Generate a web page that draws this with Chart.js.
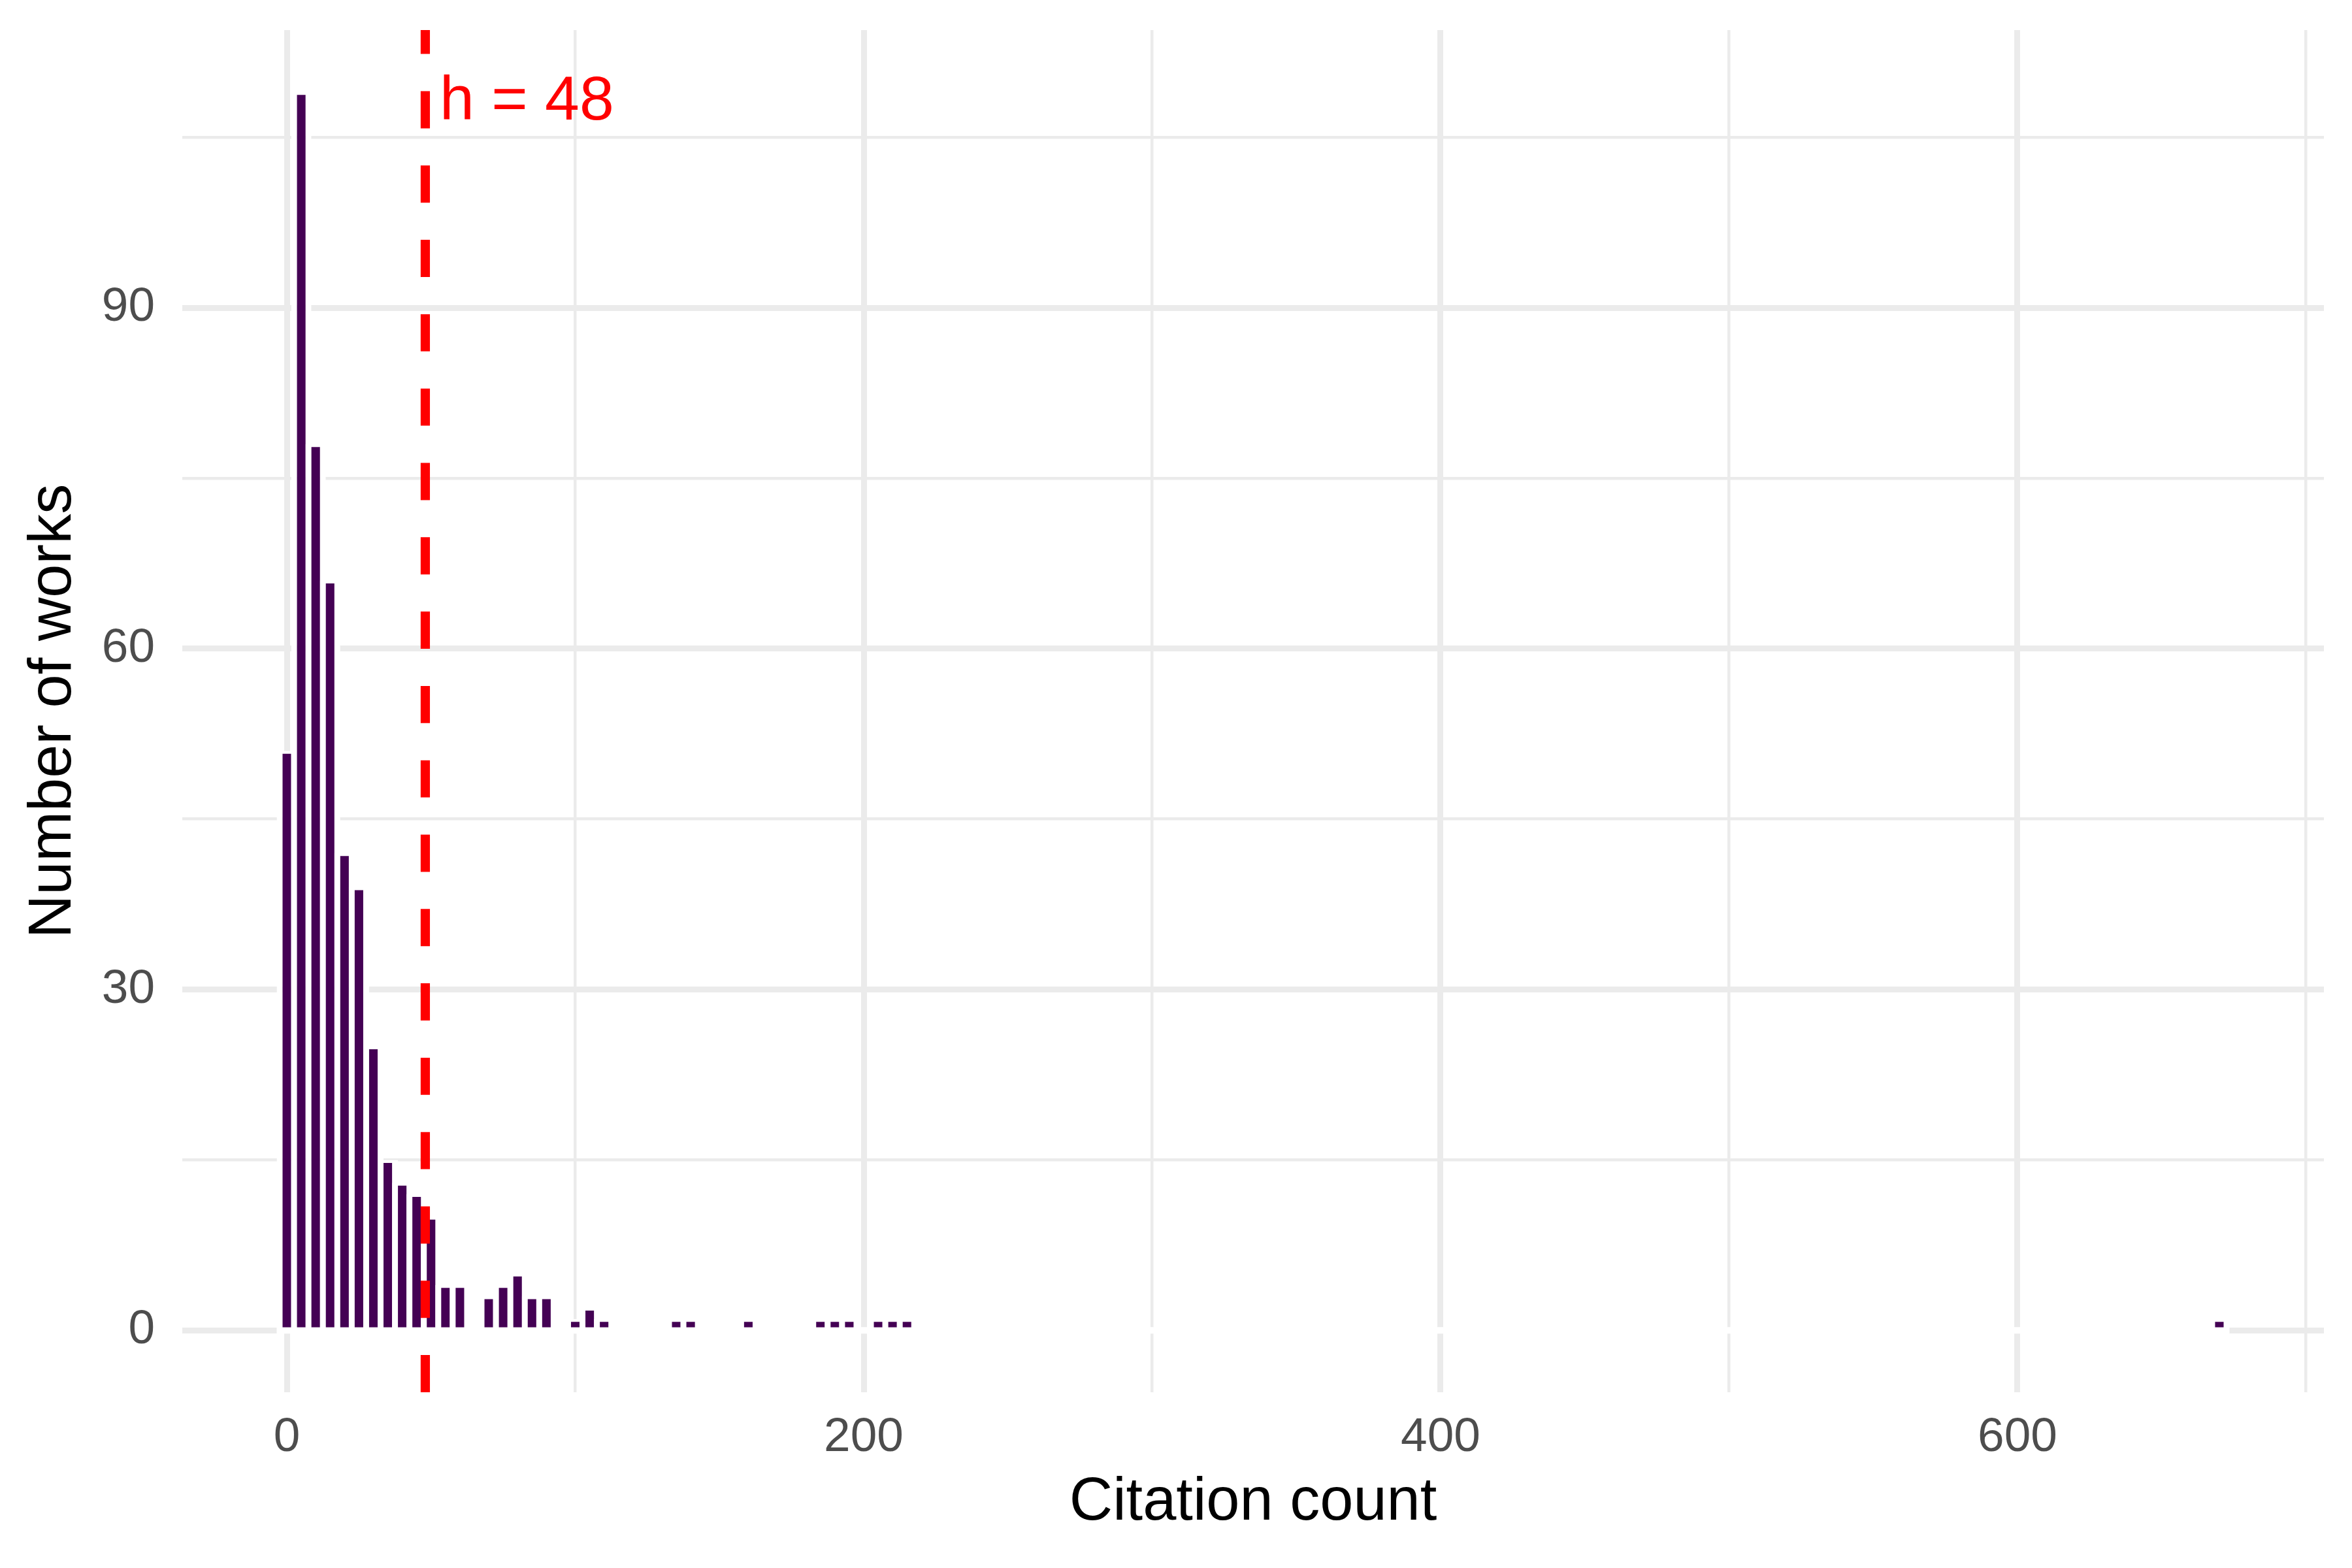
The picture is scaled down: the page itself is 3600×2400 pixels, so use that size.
<!DOCTYPE html>
<html>
<head>
<meta charset="utf-8">
<script src="https://cdn.jsdelivr.net/npm/chart.js@4/dist/chart.umd.min.js"></script>
<style>
  html, body { margin: 0; padding: 0; background: #ffffff; }
  #wrap { width: 3600px; height: 2400px; }
</style>
</head>
<body>
<div id="wrap"><canvas id="c" width="3600" height="2400"></canvas></div>
<script>
// ---- data (histogram, bin width 5, bins labelled by centre) ----
const binCenters = [0, 5, 10, 15, 20, 25, 30, 35, 40, 45, 50, 55, 60, 70, 75, 80, 85, 90,
                    100, 105, 110, 135, 140, 160, 185, 190, 195, 205, 210, 215, 670];
const binCounts  = [51, 109, 78, 66, 42, 39, 25, 15, 13, 12, 10, 4, 4, 3, 4, 5, 3, 3,
                    1, 2, 1, 1, 1, 1, 1, 1, 1, 1, 1, 1, 1];
const binWidth = 5;
const hIndex = 48;
const hLabel = 'h = 48';
const xTickValues = [0, 100, 200, 300, 400, 500, 600, 700];
const xLabeledTicks = [0, 200, 400, 600];
const yTickValues = [0, 15, 30, 45, 60, 75, 90, 105];
const yLabeledTicks = [0, 30, 60, 90];
const xTitle = 'Citation count';
const yTitle = 'Number of works';

// ---- ggplot-like 5% expansion derived from data ----
const xLo = binCenters[0] - binWidth / 2;
const xHi = binCenters[binCenters.length - 1] + binWidth / 2;
const xPad = (xHi - xLo) * 0.05;
const yMaxCount = Math.max(...binCounts);
const yPad = yMaxCount * 0.05;

const FONT = 'Liberation Sans';
const GRID = '#EBEBEB';
const MAJOR_W = 9, MINOR_W = 4.5;

const overlay = {
  id: 'overlay',
  beforeDatasetsDraw(chart) {
    const { ctx, scales: { x, y } } = chart;
    const y0 = y.getPixelForValue(0);
    const xa = x.getPixelForValue(xLo) - 4.5;
    const xb = x.getPixelForValue(xHi) + 4.5;
    ctx.save();
    ctx.strokeStyle = '#FFFFFF';
    ctx.lineWidth = 10;
    ctx.beginPath();
    ctx.moveTo(xa, y0);
    ctx.lineTo(xb, y0);
    ctx.stroke();
    ctx.restore();
  },
  afterDatasetsDraw(chart) {
    const { ctx, chartArea, scales: { x, y } } = chart;
    const px = x.getPixelForValue(hIndex);
    ctx.save();
    ctx.strokeStyle = '#FF0000';
    ctx.lineWidth = 14.2;
    ctx.setLineDash([56.9, 56.9]);
    ctx.lineCap = 'butt';
    ctx.beginPath();
    ctx.moveTo(px, chartArea.bottom);
    ctx.lineTo(px, chartArea.top);
    ctx.stroke();
    ctx.setLineDash([]);
    ctx.fillStyle = '#FF0000';
    ctx.font = '95px "' + FONT + '"';
    ctx.textAlign = 'left';
    ctx.textBaseline = 'alphabetic';
    ctx.fillText(hLabel, px + 22, y.getPixelForValue(yMaxCount) + 42);
    ctx.restore();
  }
};

new Chart(document.getElementById('c').getContext('2d'), {
  type: 'bar',
  data: {
    datasets: [{
      data: binCenters.map((c, i) => ({ x: c, y: binCounts[i] })),
      backgroundColor: '#440154',
      borderColor: '#FFFFFF',
      borderWidth: { top: 4.5, bottom: 0, left: 9, right: 9 },
      borderSkipped: false,
      barPercentage: 1.408,
      categoryPercentage: 1,
      inflateAmount: 0
    }]
  },
  options: {
    responsive: false,
    animation: false,
    devicePixelRatio: 1,
    layout: { padding: { top: 46, right: 43, bottom: 0, left: 0 } },
    plugins: { legend: { display: false }, tooltip: { enabled: false } },
    scales: {
      x: {
        type: 'linear',
        min: xLo - xPad,
        max: xHi + xPad,
        offset: false,
        afterBuildTicks: s => { s.ticks = xTickValues.map(v => ({ value: v })); },
        afterFit: s => { s.height = 269; s.paddingLeft = 0; s.paddingRight = 0; },
        ticks: {
          autoSkip: false, maxRotation: 0, minRotation: 0, padding: 26,
          color: '#4D4D4D', font: { family: FONT, size: 73, lineHeight: 1.2 },
          callback: v => xLabeledTicks.includes(v) ? String(v) : ''
        },
        grid: {
          offset: false, drawTicks: false, color: GRID,
          lineWidth: c => (c.tick && xLabeledTicks.includes(c.tick.value)) ? MAJOR_W : MINOR_W
        },
        border: { display: false },
        title: {
          display: true, text: xTitle, color: '#000000',
          font: { family: FONT, size: 92, lineHeight: 1.2 },
          padding: { top: 0, bottom: 44 }
        }
      },
      y: {
        type: 'linear',
        min: -yPad,
        max: yMaxCount + yPad,
        afterBuildTicks: s => { s.ticks = yTickValues.map(v => ({ value: v })); },
        afterFit: s => { s.width = 279; s.paddingTop = 0; s.paddingBottom = 0; },
        ticks: {
          autoSkip: false, padding: 42,
          color: '#4D4D4D', font: { family: FONT, size: 73, lineHeight: 1.2 },
          callback: v => yLabeledTicks.includes(v) ? String(v) : ''
        },
        grid: {
          drawTicks: false, color: GRID,
          lineWidth: c => (c.tick && yLabeledTicks.includes(c.tick.value)) ? MAJOR_W : MINOR_W
        },
        border: { display: false },
        title: {
          display: true, text: yTitle, color: '#000000',
          font: { family: FONT, size: 92, lineHeight: 1.2 },
          padding: { top: 27, bottom: 0 }
        }
      }
    }
  },
  plugins: [overlay]
});
</script>
</body>
</html>
